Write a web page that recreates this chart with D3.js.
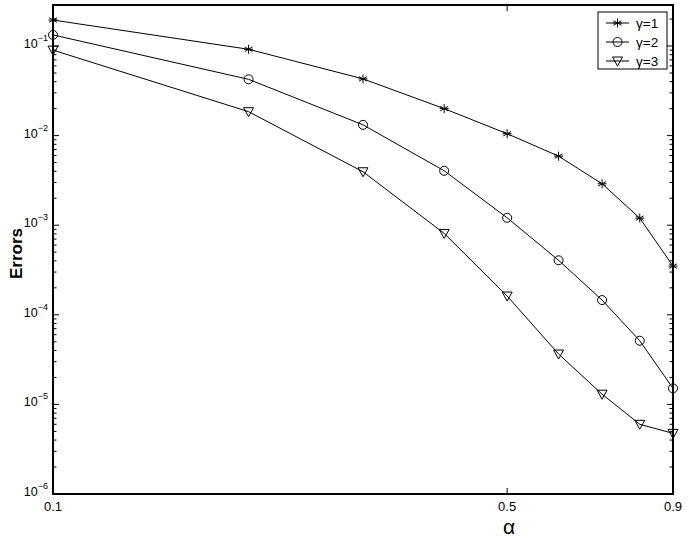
<!DOCTYPE html>
<html lang="en">
  <head>
    <meta charset="UTF-8">
    <script src="https://d3js.org/d3.v7.min.js"></script>
    <title>Errors vs alpha</title>
    <style>
      body { margin: 0; background: #fff; }
      svg { display: block; font-family: "Liberation Sans", Arial, sans-serif; }
      .frame { fill: none; stroke: #000; stroke-width: 2; }
      .series { fill: none; stroke: #000; stroke-width: 1; }
      .marker { fill: none; stroke: #000; stroke-width: 1; }
    </style>
  </head>
  <body>
    <div id="chart"></div>
    <script>
      // data
      const alphas = [0.1, 0.2, 0.3, 0.4, 0.5, 0.6, 0.7, 0.8, 0.9];
      const errGamma1 = [0.195, 0.092, 0.043, 0.020, 0.0105, 0.0059, 0.0029, 0.0012, 0.00035];
      const errGamma2 = [0.133, 0.0425, 0.0132, 0.00405, 0.00121, 0.000406, 0.000146, 0.0000514, 0.0000151];
      const errGamma3 = [0.090, 0.0185, 0.00395, 0.00081, 0.000162, 0.0000365, 0.000013, 0.000006, 0.00000475];
      const seriesNames = ["γ=1", "γ=2", "γ=3"];
      const xTicks = [0.1, 0.5, 0.9];
      const yDecades = [-6, -5, -4, -3, -2, -1];

      const width = 689, height = 539;
      const margin = { left: 53, right: 16, top: 5, bottom: 45 };

      const svg = d3.select("#chart").append("svg")
        .attr("width", width)
        .attr("height", height);

      const x = d3.scaleLog()
        .domain([0.1, 0.9])
        .range([margin.left, width - margin.right]);

      const y = d3.scaleLog()
        .domain([1e-6, 0.287])
        .range([height - margin.bottom, margin.top]);

      const x0 = margin.left, x1 = width - margin.right;
      const y0 = height - margin.bottom, y1 = margin.top;

      // ticks, pointing inward on all four sides
      const tickG = svg.append("g").attr("stroke", "#000").attr("stroke-width", 1);
      xTicks.forEach(t => {
        tickG.append("line").attr("x1", x(t)).attr("x2", x(t)).attr("y1", y0).attr("y2", y0 - 6);
        tickG.append("line").attr("x1", x(t)).attr("x2", x(t)).attr("y1", y1).attr("y2", y1 + 6);
      });
      yDecades.forEach(d => {
        for (let m = 1; m <= 9; m++) {
          const v = m * Math.pow(10, d);
          if (v > y.domain()[1]) break;
          const len = m === 1 ? 6 : 3.5;
          tickG.append("line").attr("x1", x0).attr("x2", x0 + len).attr("y1", y(v)).attr("y2", y(v));
          tickG.append("line").attr("x1", x1).attr("x2", x1 - len).attr("y1", y(v)).attr("y2", y(v));
        }
      });

      // tick labels
      xTicks.forEach(t => {
        svg.append("text")
          .attr("x", x(t))
          .attr("y", y0 + 17)
          .attr("text-anchor", "middle")
          .attr("font-size", 13)
          .text(t);
      });
      yDecades.forEach(d => {
        const txt = svg.append("text")
          .attr("x", x0 - 5)
          .attr("y", y(Math.pow(10, d)) + 2)
          .attr("text-anchor", "end")
          .attr("font-size", 12.5);
        txt.append("tspan").text("10");
        txt.append("tspan").attr("dy", -7).attr("font-size", 9).text("\u2212" + Math.abs(d));
      });

      // axis titles
      svg.append("text")
        .attr("x", x(0.5) + 2)
        .attr("y", height - 5)
        .attr("text-anchor", "middle")
        .attr("font-size", 21)
        .text("α");

      svg.append("text")
        .attr("transform", `translate(22, ${(y0 + y1) / 2 + 4}) rotate(-90)`)
        .attr("text-anchor", "middle")
        .attr("font-size", 17)
        .attr("font-weight", "bold")
        .text("Errors");

      // markers
      const star = (g) => {
        const r = 4.5;
        [0, 60, 120].forEach(a => {
          const rad = a * Math.PI / 180;
          g.append("line")
            .attr("x1", -r * Math.sin(rad)).attr("y1", -r * Math.cos(rad))
            .attr("x2", r * Math.sin(rad)).attr("y2", r * Math.cos(rad));
        });
        g.append("line").attr("x1", -r).attr("x2", r).attr("y1", 0).attr("y2", 0);
      };
      const circle = (g) => g.append("circle").attr("r", 4.5);
      const triangle = (g) => g.append("path").attr("d", "M-5,-4L5,-4L0,5Z");
      const markers = [star, circle, triangle];

      const allSeries = [errGamma1, errGamma2, errGamma3];
      const line = d3.line()
        .x((d, i) => x(alphas[i]))
        .y(d => y(d));

      allSeries.forEach((vals, k) => {
        svg.append("path").attr("class", "series").attr("d", line(vals));
        vals.forEach((v, i) => {
          const g = svg.append("g").attr("class", "marker")
            .attr("transform", `translate(${x(alphas[i])},${y(v)})`);
          markers[k](g);
        });
      });

      // frame
      svg.append("rect").attr("class", "frame")
        .attr("x", x0).attr("y", y1)
        .attr("width", x1 - x0).attr("height", y0 - y1);

      // legend
      const lg = svg.append("g").attr("transform", "translate(598, 12)");
      lg.append("rect")
        .attr("width", 69).attr("height", 57)
        .attr("fill", "#fff").attr("stroke", "#000").attr("stroke-width", 1);
      seriesNames.forEach((name, k) => {
        const yy = 11 + k * 19;
        lg.append("line").attr("x1", 8).attr("x2", 31).attr("y1", yy).attr("y2", yy)
          .attr("stroke", "#000").attr("stroke-width", 1);
        const g = lg.append("g").attr("class", "marker").attr("transform", `translate(19.5,${yy})`);
        markers[k](g);
        lg.append("text")
          .attr("x", 38).attr("y", yy + 5)
          .attr("font-size", 13.5)
          .text(name);
      });
    </script>
  </body>
</html>
